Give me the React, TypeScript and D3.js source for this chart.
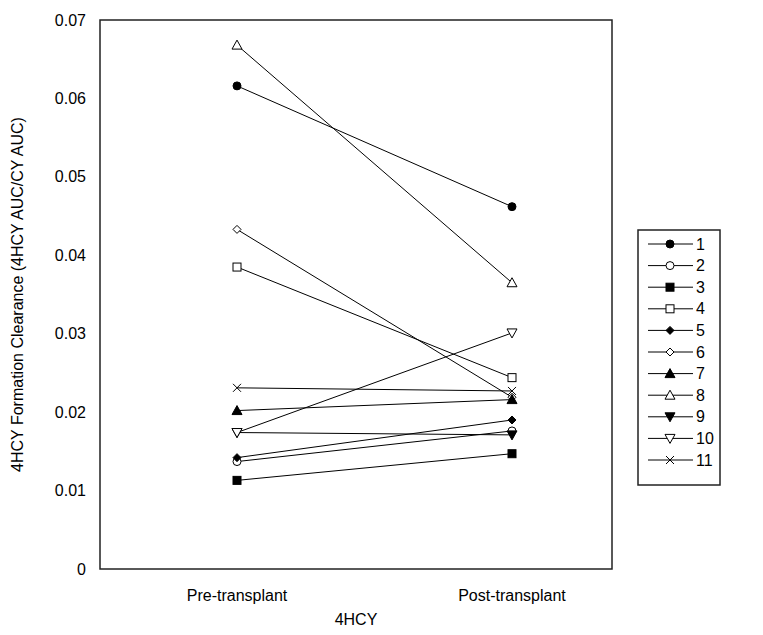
import React from "react";
import * as d3 from "d3";

const categories = ["Pre-transplant", "Post-transplant"];
const subjects = ["1", "2", "3", "4", "5", "6", "7", "8", "9", "10", "11"];
const preValues = [0.0616, 0.0137, 0.0113, 0.0385, 0.0142, 0.0433, 0.0202, 0.0668, 0.0174, 0.0174, 0.0231];
const postValues = [0.0462, 0.0176, 0.0147, 0.0244, 0.019, 0.0219, 0.0216, 0.0365, 0.0171, 0.0301, 0.0227];
const markerTypes = [
  "circleFill", "circleOpen", "squareFill", "squareOpen", "diamondFill", "diamondOpen",
  "triFill", "triOpen", "downFill", "downOpen", "cross",
];
const yTicks = [0, 0.01, 0.02, 0.03, 0.04, 0.05, 0.06, 0.07];

const FONT = "'Liberation Sans', Arial, sans-serif";

function drawMarker(g, type, x, y) {
  const s = 4;
  const stroke = "#000";
  const fill = type.endsWith("Fill") ? "#000" : "#fff";
  if (type.startsWith("circle")) {
    g.append("circle").attr("cx", x).attr("cy", y).attr("r", s).attr("fill", fill).attr("stroke", stroke);
  } else if (type.startsWith("square")) {
    g.append("rect").attr("x", x - s).attr("y", y - s).attr("width", 2 * s).attr("height", 2 * s)
      .attr("fill", fill).attr("stroke", stroke);
  } else if (type.startsWith("diamond")) {
    g.append("path").attr("d", `M${x},${y - s}L${x + s},${y}L${x},${y + s}L${x - s},${y}Z`)
      .attr("fill", fill).attr("stroke", stroke);
  } else if (type.startsWith("tri")) {
    g.append("path").attr("d", `M${x},${y - s - 1}L${x + s + 1},${y + s}L${x - s - 1},${y + s}Z`)
      .attr("fill", fill).attr("stroke", stroke);
  } else if (type.startsWith("down")) {
    g.append("path").attr("d", `M${x - s - 1},${y - s}L${x + s + 1},${y - s}L${x},${y + s + 1}Z`)
      .attr("fill", fill).attr("stroke", stroke);
  } else {
    g.append("path").attr("d", `M${x - s},${y - s}L${x + s},${y + s}M${x - s},${y + s}L${x + s},${y - s}`)
      .attr("fill", "none").attr("stroke", stroke);
  }
}

const Chart = () => {
  const svgRef = React.useRef(null);
  const width = 763;
  const height = 635;
  const plot = { left: 100, top: 20, right: 612, bottom: 569 };

  React.useEffect(() => {
    const svg = d3.select(svgRef.current);
    svg.selectAll("*").remove();

    // category positions sit a bit right of centre in the original
    const x = d3.scalePoint().domain(categories).range([237, 512]);
    const y = d3.scaleLinear().domain([0, 0.07]).range([plot.bottom, plot.top]);

    svg.append("rect").attr("width", width).attr("height", height).attr("fill", "#fff");

    // plot frame
    svg.append("rect")
      .attr("x", plot.left).attr("y", plot.top)
      .attr("width", plot.right - plot.left).attr("height", plot.bottom - plot.top)
      .attr("fill", "none").attr("stroke", "#222").attr("stroke-width", 1.5);

    // y tick labels
    svg.append("g").selectAll("text").data(yTicks).enter().append("text")
      .attr("x", plot.left - 14).attr("y", (d) => y(d)).attr("dy", "0.35em")
      .attr("text-anchor", "end").attr("font-family", FONT).attr("font-size", 16)
      .text((d) => (d === 0 ? "0" : d3.format(".2f")(d)));

    // x labels
    svg.append("g").selectAll("text").data(categories).enter().append("text")
      .attr("x", (d) => x(d)).attr("y", plot.bottom + 32)
      .attr("text-anchor", "middle").attr("font-family", FONT).attr("font-size", 16)
      .text((d) => d);

    svg.append("text").attr("x", (plot.left + plot.right) / 2).attr("y", plot.bottom + 56)
      .attr("text-anchor", "middle").attr("font-family", FONT).attr("font-size", 16).text("4HCY");

    svg.append("text")
      .attr("transform", `translate(23,${(plot.top + plot.bottom) / 2}) rotate(-90)`)
      .attr("text-anchor", "middle").attr("font-family", FONT).attr("font-size", 16)
      .text("4HCY Formation Clearance (4HCY AUC/CY AUC)");

    // series lines
    const lines = svg.append("g");
    subjects.forEach((s, i) => {
      lines.append("line")
        .attr("x1", x(categories[0])).attr("y1", y(preValues[i]))
        .attr("x2", x(categories[1])).attr("y2", y(postValues[i]))
        .attr("stroke", "#000").attr("stroke-width", 1);
    });
    const marks = svg.append("g");
    subjects.forEach((s, i) => {
      drawMarker(marks, markerTypes[i], x(categories[0]), y(preValues[i]));
      drawMarker(marks, markerTypes[i], x(categories[1]), y(postValues[i]));
    });

    // legend
    const lg = svg.append("g");
    const lx = 638;
    const ly = 230;
    const step = 21.6;
    lg.append("rect").attr("x", lx).attr("y", ly).attr("width", 82).attr("height", 255)
      .attr("fill", "#fff").attr("stroke", "#222").attr("stroke-width", 1.5);
    subjects.forEach((s, i) => {
      const yy = ly + 14 + i * step;
      lg.append("line").attr("x1", lx + 10).attr("x2", lx + 55).attr("y1", yy).attr("y2", yy)
        .attr("stroke", "#000");
      drawMarker(lg, markerTypes[i], lx + 32, yy);
      lg.append("text").attr("x", lx + 58).attr("y", yy).attr("dy", "0.35em")
        .attr("font-family", FONT).attr("font-size", 16).text(s);
    });
  }, []);

  return <svg ref={svgRef} width={width} height={height} style={{ display: "block" }} />;
};

export default function App() {
  return (
    <div style={{ margin: -8 }}>
      <Chart />
    </div>
  );
}
